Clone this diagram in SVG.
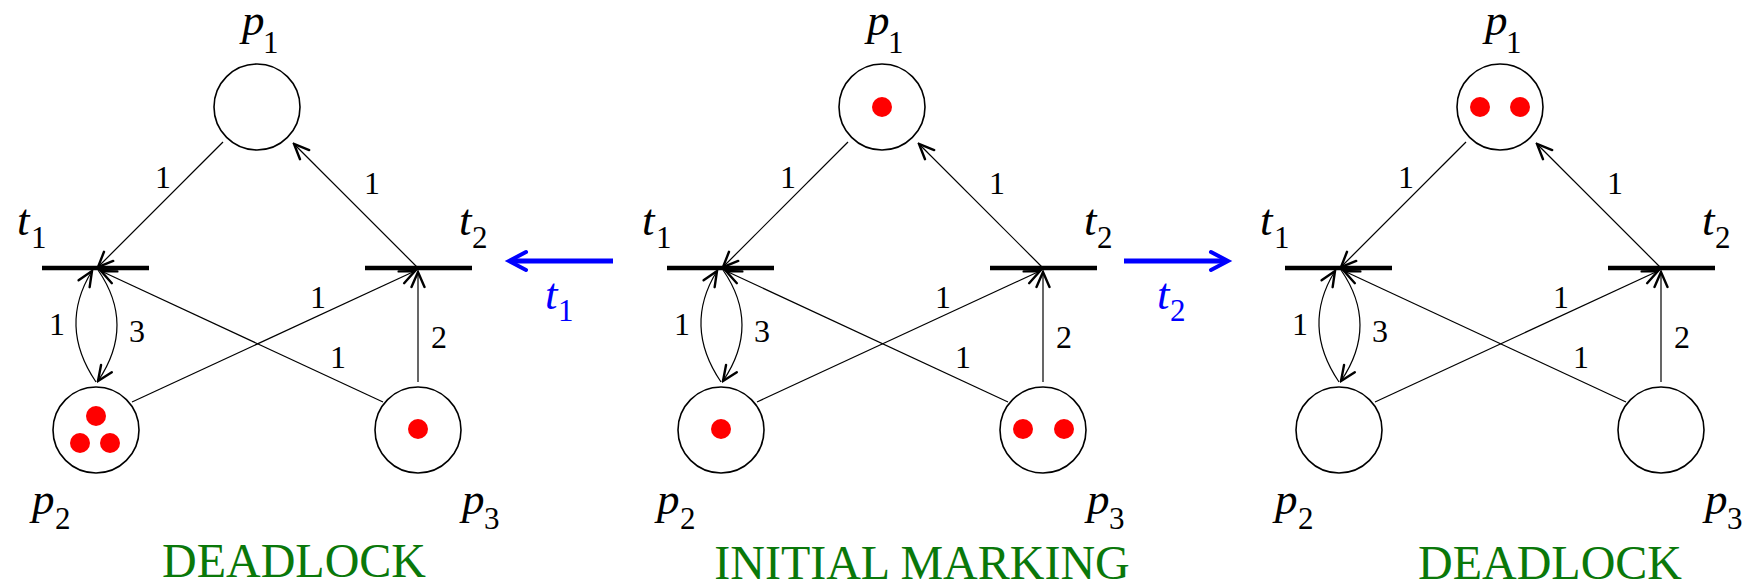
<svg xmlns="http://www.w3.org/2000/svg" width="1754" height="586" viewBox="0 0 1754 586">
<style>
.place{fill:#fff;stroke:#000;stroke-width:1.6}
.tok{fill:#ff0000;stroke:none}
.bar{stroke:#000;stroke-width:4.5;fill:none}
.arc{stroke:#000;stroke-width:1.2;fill:none;marker-end:url(#ah)}
.w{font-family:"Liberation Serif","Times New Roman",serif;font-size:32px;fill:#000;text-anchor:middle}
.sym{font-family:"Liberation Serif","Times New Roman",serif;font-style:italic;font-size:45px;fill:#000}
.sub{font-family:"Liberation Serif","Times New Roman",serif;font-size:31px;fill:#000}
.cap{font-family:"Liberation Serif","Times New Roman",serif;font-size:48px;fill:#0a780a;text-anchor:middle}
.blue{stroke:#0000ff;stroke-width:5;fill:none}
.bhead{stroke:#0000ff;stroke-width:4;fill:none;stroke-linecap:round;stroke-linejoin:miter}
.bsym{font-family:"Liberation Serif","Times New Roman",serif;font-style:italic;font-size:45px;fill:#0000ff}
.bsub{font-family:"Liberation Serif","Times New Roman",serif;font-size:31px;fill:#0000ff}
</style>
<defs>
<marker id="ah" markerUnits="userSpaceOnUse" viewBox="-17 -9 19 18" markerWidth="19" markerHeight="18" refX="0" refY="0" orient="auto">
<path d="M-15,-6.5 L0,0 L-15,6.5" fill="none" stroke="#000" stroke-width="2.4" stroke-linecap="round"/>
</marker>
</defs>

<!-- LEFT PANEL -->
<g id="panel-left">
<g id="L-connectors">
<path class="arc" d="M223,142 L98,267"/>
<path class="arc" d="M417,267 L294,144"/>
<path class="arc" d="M96,382 Q58,326 92,271"/>
<path class="arc" d="M98,270 Q136,325 98,381"/>
<path class="arc" d="M132,402 L415,271"/>
<path class="arc" d="M383,402 L101,271"/>
<path class="arc" d="M418,382 L418,272"/>
<text class="w" x="163" y="188">1</text>
<text class="w" x="372" y="194">1</text>
<text class="w" x="57" y="335">1</text>
<text class="w" x="137" y="342">3</text>
<text class="w" x="318" y="308">1</text>
<text class="w" x="338" y="368">1</text>
<text class="w" x="439" y="348">2</text>
</g>
<g id="L-p1"><circle class="place" cx="257" cy="107" r="43"/><text class="sym" x="242" y="35">p</text><text class="sub" x="263" y="53">1</text></g>
<g id="L-t1"><line class="bar" x1="42" y1="268" x2="149" y2="268"/><text class="sym" x="17" y="235">t</text><text class="sub" x="31" y="248">1</text></g>
<g id="L-t2"><line class="bar" x1="365" y1="268" x2="472" y2="268"/><text class="sym" x="459" y="235">t</text><text class="sub" x="472" y="248">2</text></g>
<g id="L-p2"><circle class="place" cx="96" cy="430" r="43"/><circle class="tok" cx="96" cy="416" r="10"/><circle class="tok" cx="80" cy="443" r="10"/><circle class="tok" cx="110" cy="443" r="10"/><text class="sym" x="32" y="514">p</text><text class="sub" x="55" y="529">2</text></g>
<g id="L-p3"><circle class="place" cx="418" cy="430" r="43"/><circle class="tok" cx="418" cy="429" r="10"/><text class="sym" x="462" y="514">p</text><text class="sub" x="484" y="529">3</text></g>
<text class="cap" x="294" y="577">DEADLOCK</text>
</g>

<!-- MIDDLE PANEL -->
<g id="panel-middle" transform="translate(625,0)">
<g id="M-connectors">
<path class="arc" d="M223,142 L98,267"/>
<path class="arc" d="M417,267 L294,144"/>
<path class="arc" d="M96,382 Q58,326 92,271"/>
<path class="arc" d="M98,270 Q136,325 98,381"/>
<path class="arc" d="M132,402 L415,271"/>
<path class="arc" d="M383,402 L101,271"/>
<path class="arc" d="M418,382 L418,272"/>
<text class="w" x="163" y="188">1</text>
<text class="w" x="372" y="194">1</text>
<text class="w" x="57" y="335">1</text>
<text class="w" x="137" y="342">3</text>
<text class="w" x="318" y="308">1</text>
<text class="w" x="338" y="368">1</text>
<text class="w" x="439" y="348">2</text>
</g>
<g id="M-p1"><circle class="place" cx="257" cy="107" r="43"/><circle class="tok" cx="257" cy="107" r="10"/><text class="sym" x="242" y="35">p</text><text class="sub" x="263" y="53">1</text></g>
<g id="M-t1"><line class="bar" x1="42" y1="268" x2="149" y2="268"/><text class="sym" x="17" y="235">t</text><text class="sub" x="31" y="248">1</text></g>
<g id="M-t2"><line class="bar" x1="365" y1="268" x2="472" y2="268"/><text class="sym" x="459" y="235">t</text><text class="sub" x="472" y="248">2</text></g>
<g id="M-p2"><circle class="place" cx="96" cy="430" r="43"/><circle class="tok" cx="96" cy="429" r="10"/><text class="sym" x="32" y="514">p</text><text class="sub" x="55" y="529">2</text></g>
<g id="M-p3"><circle class="place" cx="418" cy="430" r="43"/><circle class="tok" cx="398" cy="429" r="10"/><circle class="tok" cx="439" cy="429" r="10"/><text class="sym" x="462" y="514">p</text><text class="sub" x="484" y="529">3</text></g>
<text class="cap" x="297" y="579">INITIAL MARKING</text>
</g>

<!-- RIGHT PANEL -->
<g id="panel-right" transform="translate(1243,0)">
<g id="R-connectors">
<path class="arc" d="M223,142 L98,267"/>
<path class="arc" d="M417,267 L294,144"/>
<path class="arc" d="M96,382 Q58,326 92,271"/>
<path class="arc" d="M98,270 Q136,325 98,381"/>
<path class="arc" d="M132,402 L415,271"/>
<path class="arc" d="M383,402 L101,271"/>
<path class="arc" d="M418,382 L418,272"/>
<text class="w" x="163" y="188">1</text>
<text class="w" x="372" y="194">1</text>
<text class="w" x="57" y="335">1</text>
<text class="w" x="137" y="342">3</text>
<text class="w" x="318" y="308">1</text>
<text class="w" x="338" y="368">1</text>
<text class="w" x="439" y="348">2</text>
</g>
<g id="R-p1"><circle class="place" cx="257" cy="107" r="43"/><circle class="tok" cx="237" cy="107" r="10"/><circle class="tok" cx="277" cy="107" r="10"/><text class="sym" x="242" y="35">p</text><text class="sub" x="263" y="53">1</text></g>
<g id="R-t1"><line class="bar" x1="42" y1="268" x2="149" y2="268"/><text class="sym" x="17" y="235">t</text><text class="sub" x="31" y="248">1</text></g>
<g id="R-t2"><line class="bar" x1="365" y1="268" x2="472" y2="268"/><text class="sym" x="459" y="235">t</text><text class="sub" x="472" y="248">2</text></g>
<g id="R-p2"><circle class="place" cx="96" cy="430" r="43"/><text class="sym" x="32" y="514">p</text><text class="sub" x="55" y="529">2</text></g>
<g id="R-p3"><circle class="place" cx="418" cy="430" r="43"/><text class="sym" x="462" y="514">p</text><text class="sub" x="484" y="529">3</text></g>
<text class="cap" x="307" y="579">DEADLOCK</text>
</g>

<!-- FIRING ARROWS -->
<g id="firing-connectors">
<g id="fire-t1">
<line class="blue" x1="613" y1="261" x2="511" y2="261"/>
<path class="bhead" d="M526,252 L509,261 L526,270"/>
<text class="bsym" x="545" y="309">t</text><text class="bsub" x="558" y="321">1</text>
</g>
<g id="fire-t2">
<line class="blue" x1="1124" y1="261" x2="1226" y2="261"/>
<path class="bhead" d="M1211,252 L1228,261 L1211,270"/>
<text class="bsym" x="1157" y="309">t</text><text class="bsub" x="1170" y="321">2</text>
</g>
</g>
</svg>
